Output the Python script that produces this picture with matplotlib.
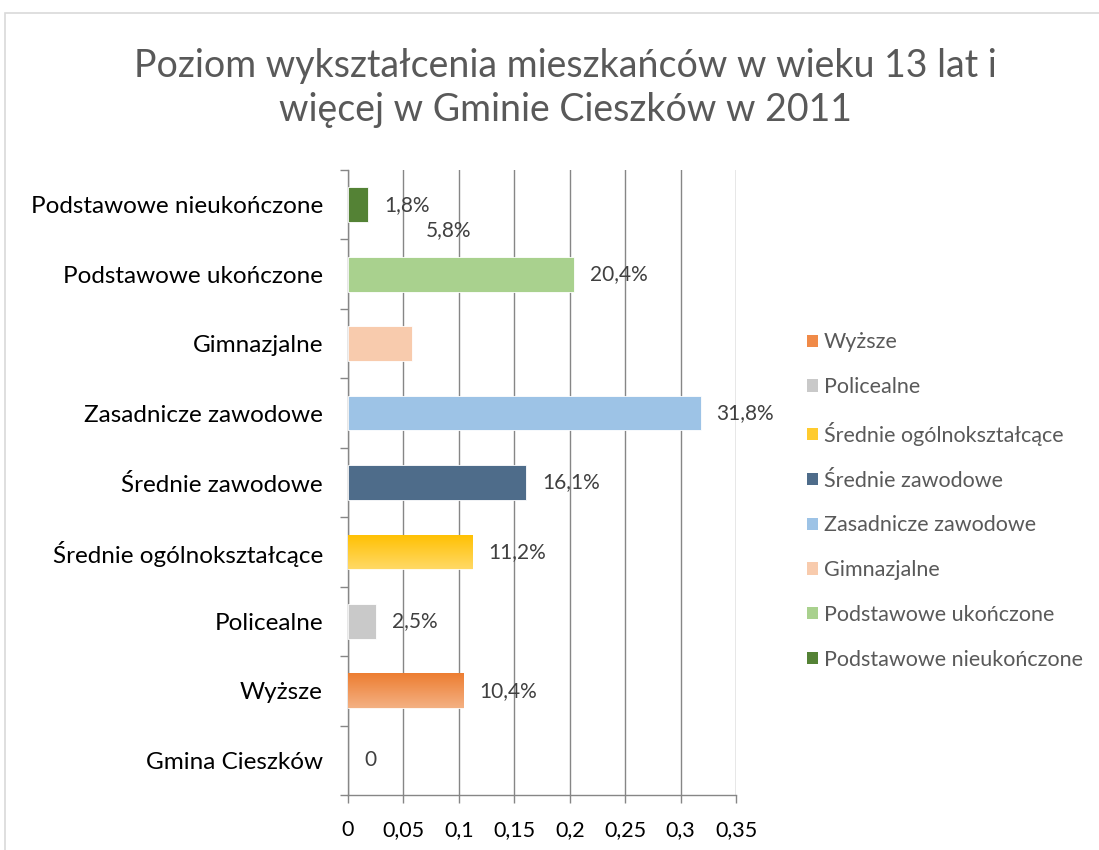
import numpy as np
import matplotlib
matplotlib.use("Agg")
import matplotlib.pyplot as plt
from matplotlib.colors import LinearSegmentedColormap
from matplotlib.patches import Patch, Rectangle

plt.rcParams['font.family'] = ['Lato', 'DejaVu Sans']

# ---- data ----
categories = ["Gmina Cieszków", "Wyższe", "Policealne", "Średnie ogólnokształcące",
              "Średnie zawodowe", "Zasadnicze zawodowe", "Gimnazjalne",
              "Podstawowe ukończone", "Podstawowe nieukończone"]
values = [0.0, 0.104, 0.025, 0.112, 0.161, 0.318, 0.058, 0.204, 0.018]
value_labels = ["0", "10,4%", "2,5%", "11,2%", "16,1%", "31,8%", "5,8%", "20,4%", "1,8%"]
colors = [None, "#F08A48", "#C9C9C9", "#FFCB2E", "#4E6C8A", "#9DC3E6",
          "#F8CBAD", "#A9D18E", "#548235"]
gradients = {1: ("#ED7D31", "#F4B183"), 3: ("#FFC000", "#FFD966")}
legend_order = [1, 2, 3, 4, 5, 6, 7, 8]
xticks = [0, 0.05, 0.1, 0.15, 0.2, 0.25, 0.3, 0.35]
xtick_labels = ["0", "0,05", "0,1", "0,15", "0,2", "0,25", "0,3", "0,35"]
title = "Poziom wykształcenia mieszkańców w wieku 13 lat i\nwięcej w Gminie Cieszków w 2011"

fig = plt.figure(figsize=(10.99, 8.5), dpi=100)
ax = fig.add_axes([348/1099, 1-795/850, (736-348)/1099, (795-170)/850])

ypos = np.arange(len(categories))
bars = []
for i, (v, c) in enumerate(zip(values, colors)):
    if i == 0:
        bars.append(None)
        continue
    b = ax.barh(ypos[i], v, height=0.5, color=c, edgecolor="white", linewidth=0.6, zorder=3)[0]
    bars.append(b)
    if i in gradients:
        top, bottom = gradients[i]
        cmap = LinearSegmentedColormap.from_list("g%d" % i, [bottom, top])
        grad = np.linspace(0, 1, 256).reshape(-1, 1)
        x0, y0, w, h = b.get_x(), b.get_y(), b.get_width(), b.get_height()
        im = ax.imshow(grad, extent=[x0, x0 + w, y0, y0 + h], origin="lower",
                       aspect="auto", cmap=cmap, zorder=3.5)
        im.set_clip_path(b)

ax.set_xlim(0, 0.35)
ax.set_ylim(-0.5, len(categories) - 0.5)
ax.set_aspect("auto")

# data labels
px = 0.35 / 388.0
for i, (v, lab) in enumerate(zip(values, value_labels)):
    if lab == "5,8%":
        # label displaced in the original chart
        ax.text(v + 13*px, ypos[i] + 1.63, lab, ha="left", va="center",
                fontsize=15, color="#404040", zorder=5)
    else:
        ax.text(v + 16*px, ypos[i], lab, ha="left", va="center",
                fontsize=15, color="#404040", zorder=5)

# axes styling
ax.set_xticks(xticks)
ax.set_xticklabels(xtick_labels, fontsize=15.5, color="black")
ax.set_yticks(ypos)
ax.set_yticklabels(categories, fontsize=17.5, color="black")
ax.set_yticks(np.arange(-0.5, len(categories) - 0.4, 1.0), minor=True)
ax.tick_params(axis="y", which="major", length=0, pad=18)
ax.tick_params(axis="y", which="minor", length=6, color="#868686", width=1, direction="out")
ax.tick_params(axis="x", which="major", length=6, color="#868686", width=1, direction="out", pad=12)
ax.grid(axis="x", color="#868686", linewidth=1, zorder=0)
ax.set_axisbelow(True)
for s in ["top", "right"]:
    ax.spines[s].set_visible(False)
for s in ["left", "bottom"]:
    ax.spines[s].set_color("#868686")
    ax.spines[s].set_linewidth(1)

# legend
handles = [Patch(facecolor=colors[i], edgecolor="none") for i in legend_order]
labels = [categories[i] for i in legend_order]
leg = fig.legend(handles, labels, loc="center left",
                 bbox_to_anchor=(788/1099, 1 - 501/850), frameon=False,
                 fontsize=15.5, handlelength=0.5, handleheight=0.5,
                 handletextpad=0.25, labelspacing=1.15)
for t in leg.get_texts():
    t.set_color("#595959")

# title
fig.text(565/1099, 1 - 88/850, title, ha="center", va="center", fontsize=27,
         color="#595959", linespacing=1.3)

# chart border
fig.patches.append(Rectangle((5/1099, -0.01), 1.02, 1 - 13/850 + 0.01,
                             transform=fig.transFigure, fill=False,
                             edgecolor="#D9D9D9", linewidth=1.2))

fig.savefig("out.png", dpi=100)
